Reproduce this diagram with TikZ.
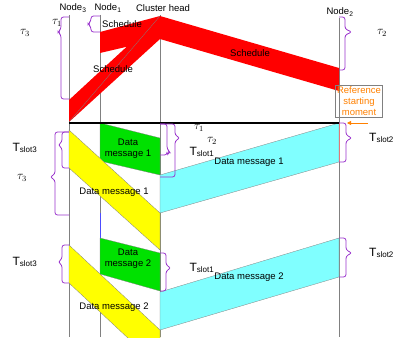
\documentclass[tikz,border=0pt]{standalone}
\usepackage{fontspec}
\setmainfont{Liberation Sans}
\usetikzlibrary{arrows.meta}

\definecolor{viola}{RGB}{153,51,204}
\definecolor{arancio}{RGB}{255,128,0}
\definecolor{verde}{RGB}{0,225,0}
\definecolor{ciano}{RGB}{128,255,255}
\definecolor{rosso}{RGB}{255,0,0}
\definecolor{giallo}{RGB}{255,255,0}

% graffa: linea, inizio, punta, fine, dorso, sporgenza punta
\newcommand{\graffa}[6]{%
  \draw[graffa] (#1,#2) -- ({#1+#5},#2) -- ({#1+#5},{#3-3}) -- ({#1+#6},#3)
    -- ({#1+#5},{#3+3}) -- ({#1+#5},#4) -- (#1,#4);}

\tikzset{
  vita/.style={draw=gray, line width=0.5pt},
  banda/.style={draw=black!50, line width=0.3pt},
  graffa/.style={draw=viola, line width=0.8pt, rounded corners=2.5pt},
  testo/.style={font=\fontsize{9.5}{11}\selectfont, inner sep=0pt, align=center},
  grande/.style={font=\fontsize{12}{13}\selectfont, inner sep=0pt},
}

\begin{document}
\begin{tikzpicture}[x=1pt, y=-1pt]
  \useasboundingbox (0,0) rectangle (393,337);

  % nomi dei nodi in alto
  \node[testo] (n3) at (73,8) {Node\textsubscript{3}};
  \node[testo] (n1) at (108,8) {Node\textsubscript{1}};
  \node[testo] (ch) at (163,8) {Cluster head};
  \node[testo] (n2) at (340,12) {Node\textsubscript{2}};

  % linee di vita
  \coordinate (n3a) at (69,15);  \coordinate (n3b) at (69,337);
  \coordinate (n1a) at (100,15); \coordinate (n1b) at (100,337);
  \coordinate (cha) at (160,15); \coordinate (chb) at (160,337);
  \coordinate (n2a) at (339,18); \coordinate (n2b) at (339,337);
  \draw[vita] (n3a) -- (n3b);
  \draw[vita] (n1a) -- (n1b);
  \draw[vita] (cha) -- (chb);
  \draw[vita] (n2a) -- (n2b);
  \draw[blue!70, line width=0.5pt] (100,213) -- (100,238);
  \draw[red!60, line width=0.5pt] (339,123) -- (339,162);

  % schedule (rosso)
  \fill[rosso] (69,100) -- (160,16) -- (160,39) -- (69,122) -- cycle;
  \fill[rosso] (100,32) -- (160,16) -- (160,39) -- (100,53) -- cycle;
  \fill[rosso] (160,16) -- (339,68) -- (339,91) -- (160,39) -- cycle;
  \draw[banda] (69,122) -- (160,16);

  % messaggi dati 1
  \filldraw[banda, fill=verde] (100,123) -- (160,138) -- (160,175) -- (100,161) -- cycle;
  \filldraw[banda, fill=giallo] (69,130) -- (160,213) -- (160,250) -- (69,168) -- cycle;
  \filldraw[banda, fill=ciano] (160,175) -- (339,123) -- (339,162) -- (160,213) -- cycle;

  % messaggi dati 2
  \filldraw[banda, fill=verde] (100,238) -- (160,253) -- (160,291) -- (100,274) -- cycle;
  \filldraw[banda, fill=giallo] (69,245) -- (160,330) -- (160,368) -- (69,283) -- cycle;
  \filldraw[banda, fill=ciano] (160,292) -- (339,238) -- (339,277) -- (160,330) -- cycle;

  % istante di riferimento
  \coordinate (rifa) at (69,123); \coordinate (rifb) at (339,123);
  \draw[line width=2pt] (rifa) -- (rifb);
  \node[testo, draw=gray, text=arancio, inner sep=1.5pt, minimum width=45pt] (rif)
    at (359,101) {Reference\\starting\\moment};
  \coordinate (frA) at (368,123); \coordinate (frB) at (347,123);
  \draw[arancio, line width=0.8pt, -{Triangle[length=4pt, width=4pt]}] (frA) -- (frB);

  % graffe
  \graffa{69}{17}{32}{99}{-8}{-11}
  \graffa{100}{16}{24}{32}{-9}{-12}
  \graffa{339}{17}{32}{70}{6}{13}
  \graffa{160}{124}{138}{177}{15}{20}
  \graffa{160}{124}{152}{155}{7}{10}
  \graffa{339}{123}{138}{162}{7}{13}
  \graffa{339}{238}{253}{277}{7}{13}
  \graffa{160}{253}{268}{291}{6}{11}
  \graffa{69}{132}{177}{215}{-14}{-19}
  \graffa{69}{132}{145}{168}{-7}{-11}
  \graffa{69}{245}{262}{283}{-7}{-11}

  % etichette
  \node[grande] (t3a) at (25,33) {$\tau_3$};
  \node[grande] (t1a) at (57,23) {$\tau_1$};
  \node[grande] (t2a) at (382,33) {$\tau_2$};
  \node[testo] (s1) at (122,24) {Schedule};
  \node[testo] (s3) at (113,69) {Schedule};
  \node[testo] (s2) at (250,53) {Schedule};

  \node[grande] (ts3a) at (25,148) {T\textsubscript{slot3}};
  \node[grande] (t3b) at (22,178) {$\tau_3$};
  \node[grande] (ts3b) at (25,262) {T\textsubscript{slot3}};
  \node[grande] (t1b) at (199,128) {$\tau_1$};
  \node[grande] (t2b) at (212,141) {$\tau_2$};
  \node[grande] (ts1a) at (202,152) {T\textsubscript{slot1}};
  \node[grande] (ts1b) at (202,268) {T\textsubscript{slot1}};
  \node[grande, anchor=west] (ts2a) at (369,138) {T\textsubscript{slot2}};
  \node[grande, anchor=west] (ts2b) at (369,253) {T\textsubscript{slot2}};

  \node[testo] (v1) at (128,149) {Data\\message 1};
  \node[testo] (g1) at (114,192) {Data message 1};
  \node[testo] (c1) at (249,162) {Data message 1};
  \node[testo] (v2) at (128,259) {Data\\message 2};
  \node[testo] (g2) at (114,307) {Data message 2};
  \node[testo] (c2) at (249,277) {Data message 2};
\end{tikzpicture}
\end{document}
